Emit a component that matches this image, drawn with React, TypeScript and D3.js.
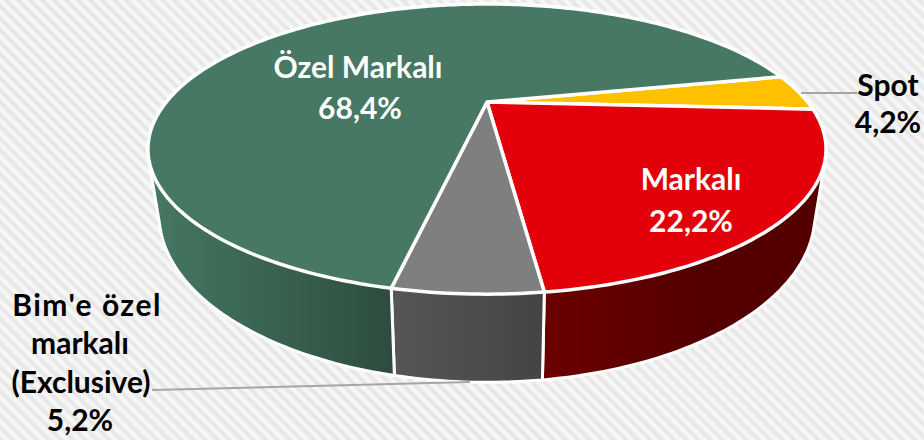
import React from "react";
import * as d3 from "d3";

const categories = ["Spot", "Markalı", "Bim'e özel markalı (Exclusive)", "Özel Markalı"];
const shares = [4.2, 22.2, 5.2, 68.4];
const valueLabels = ["4,2%", "22,2%", "5,2%", "68,4%"];
const topColors = ["#ffc000", "#e3000b", "#7f7f7f", "#467864"];
const sideLight = ["#b38600", "#6c0000", "#565656", "#467864"];
const sideDark = ["#8a6800", "#540000", "#444444", "#2c4c3e"];

const W = 924, H = 440;
const cx = 487;

// perspective disc projection
function proj(t: number, y0: number, a: number, b: number, k: number, x0 = cx): [number, number] {
  const u = Math.cos(t), v = Math.sin(t);
  const w = 1 + k * v;
  return [x0 + (b * u) / w, y0 - (a * v) / w];
}
const top = (t: number) => proj(t, 102, 129.8, 320.7, 0.3245);
const bot = (t: number) => proj(t, 161, 149.5, 310, 0.3245);

const startDeg = 12;
const pieGen = d3.pie<number>().sort(null).value((d) => d).startAngle(0).endAngle(2 * Math.PI);
const arcs = pieGen(shares);
const toT = (a: number) => (startDeg * Math.PI) / 180 - a;

function samples(a0: number, a1: number) {
  const n = Math.max(4, Math.ceil(((a1 - a0) * 180) / Math.PI));
  return d3.range(n + 1).map((i) => toT(a0 + ((a1 - a0) * i) / n));
}
const line = d3.line<[number, number]>();

// visible wall of a slice: the hull of its rim points, cut off behind the far side
const backLimit = (-195 * Math.PI) / 180;
function wall(a0: number, a1: number) {
  const ts = samples(a0, a1).filter((t) => t >= backLimit);
  const pts = [...ts.map(top), ...ts.map(bot)];
  return d3.polygonHull(pts) as [number, number][];
}

export default function App() {
  return (
    <svg width={W} height={H} style={{ position: "absolute", left: 0, top: 0, display: "block" }}>
      <defs>
        <linearGradient id="st" x1="0" x2="1" y1="0" y2="0">
          <stop offset="0" stopColor="#fbfbfb" />
          <stop offset="0.5" stopColor="#e4e4e4" />
          <stop offset="1" stopColor="#fbfbfb" />
        </linearGradient>
        <pattern id="bg" width="8.5" height="8.5" patternUnits="userSpaceOnUse" patternTransform="rotate(45)">
          <rect width="8.5" height="8.5" fill="url(#st)" transform="rotate(90 4.25 4.25)" />
        </pattern>
        {categories.map((c, i) => (
          <linearGradient key={c} id={`side${i}`} gradientUnits="userSpaceOnUse" x1={i === 3 ? 150 : i === 1 ? 545 : 395} x2={i === 3 ? 395 : i === 1 ? 700 : 545} y1="0" y2="0">
            <stop offset="0" stopColor={sideLight[i]} />
            <stop offset="1" stopColor={sideDark[i]} />
          </linearGradient>
        ))}
      </defs>
      <rect width={W} height={H} fill="url(#bg)" />
      {arcs.map((a, i) => (
        <path key={i} d={line(wall(a.startAngle, a.endAngle)) + "Z"} fill={`url(#side${i})`} stroke="#fff" strokeWidth={3} strokeLinejoin="round" />
      ))}
      {arcs.map((a, i) => {
        const ts = samples(a.startAngle, a.endAngle);
        const pts: [number, number][] = [[cx, 102], ...ts.map(top)];
        return <path key={i} d={line(pts) + "Z"} fill={topColors[i]} stroke="#fff" strokeWidth={3.5} strokeLinejoin="round" />;
      })}
      <path d="M801 93H857" stroke="#a6a6a6" strokeWidth={2} fill="none" />
      <path d="M152 390L470 382" stroke="#a6a6a6" strokeWidth={2} fill="none" />
      <g fontFamily="Lato, Carlito, sans-serif" fontWeight={700} fontSize={30} textAnchor="middle">
        <text x={358} y={78} fill="#fff">{categories[3]}</text>
        <text x={360} y={119} fill="#fff">{valueLabels[3]}</text>
        <text x={691} y={190} fill="#fff">{categories[1]}</text>
        <text x={691} y={232} fill="#fff">{valueLabels[1]}</text>
        <text x={888} y={96} fill="#000">{categories[0]}</text>
        <text x={888} y={133} fill="#000">{valueLabels[0]}</text>
        <text x={87} y={316} fill="#000" letterSpacing={1.5}>Bim'e özel</text>
        <text x={80} y={354} fill="#000">markalı</text>
        <text x={81} y={393} fill="#000">(Exclusive)</text>
        <text x={80} y={431} fill="#000">{valueLabels[2]}</text>
      </g>
    </svg>
  );
}
